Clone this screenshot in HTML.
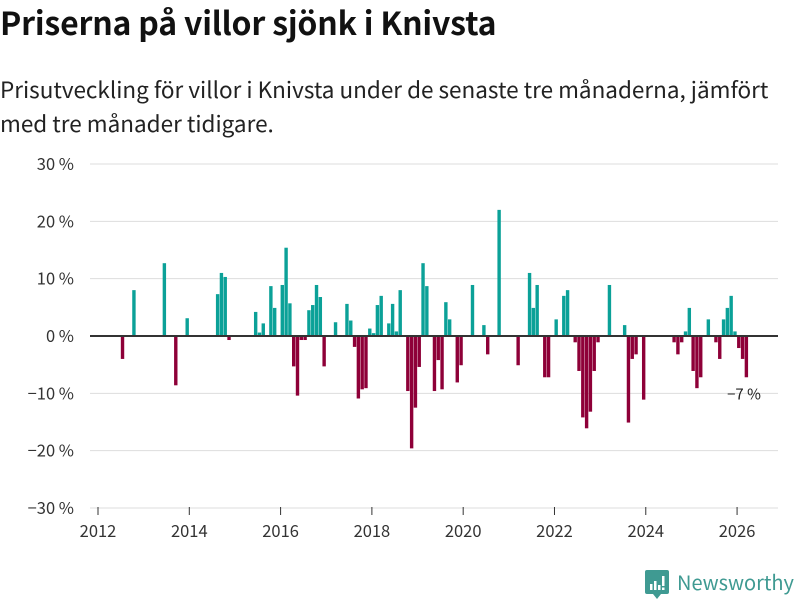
<!DOCTYPE html>
<html><head><meta charset="utf-8"><style>
body{margin:0;width:800px;height:600px;background:#fff;font-family:"Noto Sans CJK SC","Liberation Sans",sans-serif;overflow:hidden;position:relative}
#title{position:absolute;left:0;top:1px;font-size:32px;line-height:42px;font-weight:bold;color:#111;margin:0;letter-spacing:-0.2px;white-space:nowrap}
#sub{position:absolute;left:0;top:72px;font-size:22.5px;line-height:34px;color:#222;width:800px}
svg{position:absolute;left:0;top:0}
</style></head><body>
<h1 id="title">Priserna på villor sjönk i Knivsta</h1>
<div id="sub">Prisutveckling för villor i Knivsta under de senaste tre månaderna, jämfört med tre månader tidigare.</div>
<svg id="chart" width="800" height="600"></svg>
<script>
const months = [6,9,17,20,23,31,32,33,34,41,42,43,45,46,48,49,50,51,52,53,54,55,56,57,58,59,62,65,66,67,68,69,70,71,72,73,74,76,77,78,79,81,82,83,84,85,86,88,89,90,91,92,94,95,98,101,102,105,110,113,114,115,117,118,120,122,123,125,126,127,128,129,130,131,134,138,139,140,141,143,151,152,153,154,155,156,157,158,160,162,163,164,165,166,167,168,169,170];
const values = [-4.0,8.0,12.7,-8.6,3.1,7.3,11.0,10.3,-0.7,4.2,0.6,2.2,8.7,4.9,8.9,15.4,5.7,-5.3,-10.4,-0.7,-0.7,4.5,5.4,8.9,6.8,-5.3,2.4,5.6,2.7,-1.9,-10.9,-9.3,-9.1,1.3,0.5,5.4,7.0,2.2,5.6,0.8,8.0,-9.6,-19.6,-12.5,-5.4,12.7,8.7,-9.6,-4.2,-9.3,5.9,2.9,-8.1,-5.1,8.9,1.9,-3.2,22.0,-5.1,11.0,4.9,8.9,-7.2,-7.2,2.9,7.0,8.0,-1.1,-6.1,-14.2,-16.1,-13.2,-6.1,-1.1,8.9,1.9,-15.1,-4.0,-3.2,-11.1,-1.1,-3.2,-1.1,0.8,4.9,-6.1,-9.1,-7.2,2.9,-1.1,-4.0,2.9,4.9,7.0,0.8,-2.1,-4.0,-7.2];
const yTicks = [30,20,10,0,-10,-20,-30];
const yTickLabels = ["30 %","20 %","10 %","0 %","\u221210 %","\u221220 %","\u221230 %"];
const xYears = [2012,2014,2016,2018,2020,2022,2024,2026];
const lastLabel = "\u22127 %";

const NS="http://www.w3.org/2000/svg", svg=document.getElementById('chart');
const FONT='Noto Sans CJK SC, Liberation Sans, sans-serif';
const y = v => 336 - v*5.733;
const x = m => 98 + m*3.804;
const yearX = yr => x((yr-2012)*12);
function el(t,a){const e=document.createElementNS(NS,t);for(const k in a)e.setAttribute(k,a[k]);svg.appendChild(e);return e;}
yTicks.forEach((t,i)=>{
  if(t!==0){const g=el('line',{x1:90,x2:778,y1:y(t),y2:y(t),stroke:'#dddddd','stroke-width':1});
  
  }
  const tx=el('text',{x:74,y:y(t)+6,'text-anchor':'end','font-size':16.5,fill:'#333','font-family':FONT});
  tx.textContent=yTickLabels[i];
  
  
});
xYears.forEach(yr=>{
  const tk=el('line',{x1:yearX(yr),x2:yearX(yr),y1:507,y2:515,stroke:'#333','stroke-width':1});
  
  
  const tx=el('text',{x:yearX(yr),y:537,'text-anchor':'middle','font-size':16.5,fill:'#333','font-family':FONT});
  tx.textContent=yr;
  
  
});
months.forEach((m,i)=>{
  const v=values[i];
  const r=el('rect',{x:x(m),width:3.4,y:Math.min(y(v),y(0)),height:Math.abs(y(v)-y(0)),fill:v>=0?'#0ba198':'#8e0038'});
  
  
});
const z=el('line',{x1:90,x2:778,y1:y(0),y2:y(0),stroke:'#333','stroke-width':2});


const ll=el('text',{x:744,y:y(-10)+6,'text-anchor':'middle','font-size':15,fill:'#222','font-family':FONT});
ll.textContent=lastLabel;


</script>
<div style="position:absolute;left:645px;top:570px;display:flex;align-items:center">
<svg width="24" height="30" style="position:static" viewBox="0 0 24 30"><rect x="0" y="0" width="24" height="24" rx="2" fill="#3f9a92"/><polygon points="8,24 16,24 12,29" fill="#3f9a92"/><rect x="5" y="14" width="2.5" height="6" fill="#fff"/><rect x="9" y="11" width="2.5" height="9" fill="#fff"/><rect x="13" y="15" width="2.5" height="5" fill="#fff"/><rect x="17" y="6" width="2.5" height="10" fill="#fff"/><rect x="17" y="17.5" width="2.5" height="2.5" fill="#fff"/></svg>
<span style="font-size:20px;line-height:24px;color:#3f9a92;margin-left:8px;margin-top:-6px">Newsworthy</span></div>
</body></html>
